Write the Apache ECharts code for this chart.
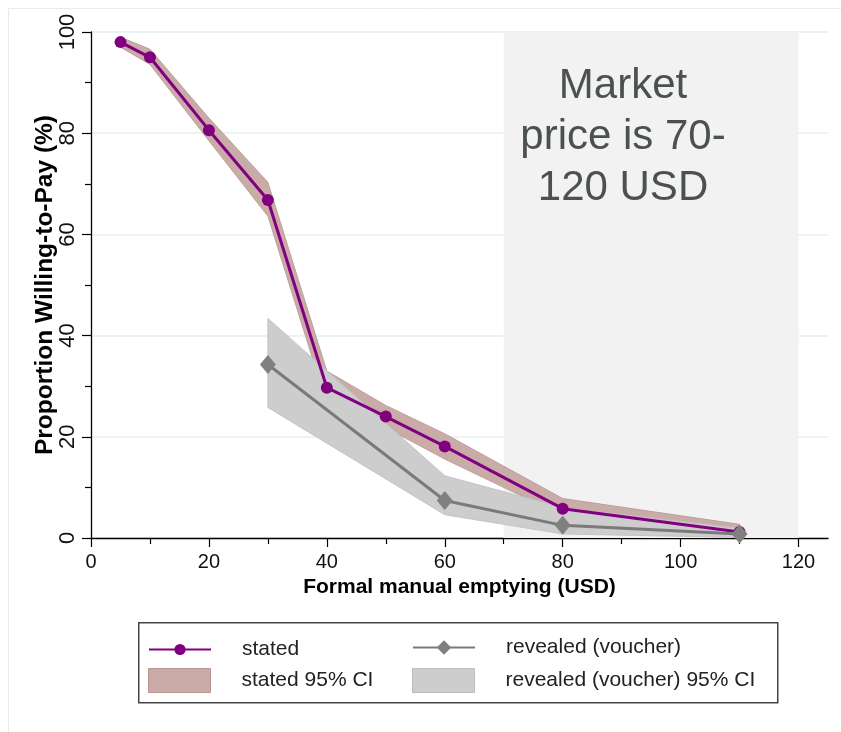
<!DOCTYPE html>
<html>
<head>
<meta charset="utf-8">
<script src="https://cdn.jsdelivr.net/npm/echarts@6/dist/echarts.min.js"></script>
<style>
  html, body { margin: 0; background: #fff; }
  #chart { width: 841px; height: 732px; }
</style>
</head>
<body>
<div id="chart"></div>
<script>
// price offered (USD) for the stated survey
const statedPrices = [5, 10, 20, 30, 40, 50, 60, 80, 110]
const stated = [98, 95, 80.6, 66.8, 29.7, 24, 18.1, 5.8, 1.2]
const statedLow = [97, 93.6, 78.5, 63.6, 26.5, 21.8, 15.6, 4.4, 0.2]
const statedHigh = [99, 96.6, 83, 70.3, 33, 26.2, 20.6, 7.8, 2.7]

// voucher experiment
const revealedPrices = [30, 60, 80, 110]
const revealed = [34.3, 7.4, 2.5, 0.8]
const revealedLow = [25.8, 4.6, 0.8, 0.1]
const revealedHigh = [43.4, 12.3, 6, 1.9]

const xTicks = [0, 20, 40, 60, 80, 100, 120]
const xMinorTicks = [10, 30, 50, 70, 90, 110]
const marketRange = [70, 120]
const marketText = 'Market\nprice is 70-\n120 USD'

const FONT = '"Liberation Sans", Arial, Helvetica, sans-serif'
const PURPLE = '#800080'
const GREY = '#7a7a7a'
const BROWN_CI = '#c9aca7'
const GREY_CI = '#cdcdcd'

const pairs = (xs, ys) => xs.map((x, i) => [x, ys[i]])
const triples = (xs, lo, hi) => xs.map((x, i) => [x, lo[i], hi[i]])

// draws the whole confidence band as one polygon (on the first item)
function band(xs, lo, hi, fill, stroke) {
  return function (params, api) {
    if (params.dataIndex !== 0) return null
    const top = xs.map((x, i) => api.coord([x, hi[i]]))
    const bottom = xs.map((x, i) => api.coord([x, lo[i]])).reverse()
    return {
      type: 'polygon',
      shape: { points: top.concat(bottom) },
      style: { fill: fill, stroke: stroke, lineWidth: 1 }
    }
  }
}

// one legend per cell so the two columns line up like the original 2x2 key
function legendCell(left, top, h, item) {
  return {
    left: left,
    top: top,
    padding: 0,
    itemWidth: 62,
    itemHeight: h,
    selectedMode: false,
    textStyle: { fontSize: 21, color: '#222', padding: [0, 0, 0, 26], fontFamily: FONT },
    data: [item]
  }
}

const chart = echarts.init(document.getElementById('chart'))

chart.setOption({
  animation: false,
  textStyle: { fontFamily: FONT },
  grid: { left: 91, right: 13, top: 32, bottom: 194, outerBoundsMode: 'none' },
  xAxis: [
    {
      type: 'value',
      min: 0,
      max: 125,
      interval: 20,
      axisLine: { lineStyle: { color: '#000', width: 1.3 } },
      axisTick: { show: true, customValues: xTicks, length: 9, lineStyle: { color: '#000', width: 1.2 } },
      axisLabel: { customValues: xTicks, fontSize: 20, color: '#111', margin: 14, fontFamily: FONT },
      splitLine: { show: false },
      name: 'Formal manual emptying (USD)',
      nameLocation: 'middle',
      nameGap: 39,
      nameMoveOverlap: false,
      nameTextStyle: { fontSize: 21, fontWeight: 'bold', color: '#000', fontFamily: FONT }
    },
    {
      // minor ticks only
      type: 'value',
      position: 'bottom',
      min: 0,
      max: 125,
      axisLine: { show: false },
      axisTick: { show: true, customValues: xMinorTicks, length: 6, lineStyle: { color: '#000', width: 1.2 } },
      axisLabel: { show: false },
      splitLine: { show: false }
    }
  ],
  yAxis: {
    type: 'value',
    min: 0,
    max: 100,
    interval: 20,
    axisLine: { show: true, lineStyle: { color: '#000', width: 1.3 } },
    axisTick: { show: true, length: 9, lineStyle: { color: '#000', width: 1.2 } },
    minorTick: { show: true, splitNumber: 2, length: 6, lineStyle: { color: '#000', width: 1.2 } },
    splitLine: { lineStyle: { color: '#e6eff1', width: 1.5 } },
    axisLabel: { rotate: 90, fontSize: 22, color: '#111', margin: 12, fontFamily: FONT },
    name: 'Proportion Willing-to-Pay (%)',
    nameLocation: 'middle',
    nameGap: 33,
    nameMoveOverlap: false,
    nameTextStyle: { fontSize: 24.5, fontWeight: 'bold', color: '#000', fontFamily: FONT }
  },
  legend: [
    legendCell(148, 639, 14, { name: 'stated' }),
    legendCell(412, 637, 18, { name: 'revealed (voucher)' }),
    legendCell(148, 668, 24, { name: 'stated 95% CI', icon: 'rect', itemStyle: { color: BROWN_CI, borderColor: '#b8958f', borderWidth: 1 } }),
    legendCell(412, 668, 24, { name: 'revealed (voucher) 95% CI', icon: 'rect', itemStyle: { color: GREY_CI, borderColor: '#bdbdbd', borderWidth: 1 } })
  ],
  graphic: [
    {
      type: 'rect',
      silent: true,
      shape: { x: 8.5, y: 8.5, width: 900, height: 900 },
      style: { fill: 'none', stroke: '#eaeaea', lineWidth: 1 },
      z: -10
    },
    {
      // legend frame
      type: 'rect',
      silent: true,
      shape: { x: 138.75, y: 622.75, width: 639, height: 80 },
      style: { fill: 'none', stroke: '#444', lineWidth: 1.5 },
      z: 10
    },
    {
      type: 'text',
      x: 623,
      y: 137,
      style: {
        text: marketText,
        font: '42px ' + FONT,
        fill: '#4b5151',
        align: 'center',
        verticalAlign: 'middle',
        lineHeight: 51
      },
      z: 10
    }
  ],
  series: [
    {
      name: 'stated 95% CI',
      type: 'custom',
      data: triples(statedPrices, statedLow, statedHigh),
      encode: { x: 0, y: [1, 2] },
      renderItem: band(statedPrices, statedLow, statedHigh, BROWN_CI, '#c0a09a'),
      itemStyle: { color: BROWN_CI },
      silent: true,
      z: 2,
      markArea: {
        silent: true,
        itemStyle: { color: '#f2f2f2' },
        data: [[{ xAxis: marketRange[0], yAxis: 0 }, { xAxis: marketRange[1], yAxis: 100 }]]
      }
    },
    {
      name: 'revealed (voucher) 95% CI',
      type: 'custom',
      data: triples(revealedPrices, revealedLow, revealedHigh),
      encode: { x: 0, y: [1, 2] },
      renderItem: band(revealedPrices, revealedLow, revealedHigh, GREY_CI, '#c4c4c4'),
      itemStyle: { color: GREY_CI },
      silent: true,
      z: 3
    },
    {
      name: 'stated',
      type: 'line',
      data: pairs(statedPrices, stated),
      symbol: 'circle',
      symbolSize: 12,
      itemStyle: { color: PURPLE },
      lineStyle: { color: PURPLE, width: 3 },
      z: 4
    },
    {
      name: 'revealed (voucher)',
      type: 'line',
      data: pairs(revealedPrices, revealed),
      symbol: 'diamond',
      symbolSize: [16, 19],
      itemStyle: { color: '#808080' },
      lineStyle: { color: GREY, width: 3 },
      z: 5
    }
  ]
})
</script>
</body>
</html>
